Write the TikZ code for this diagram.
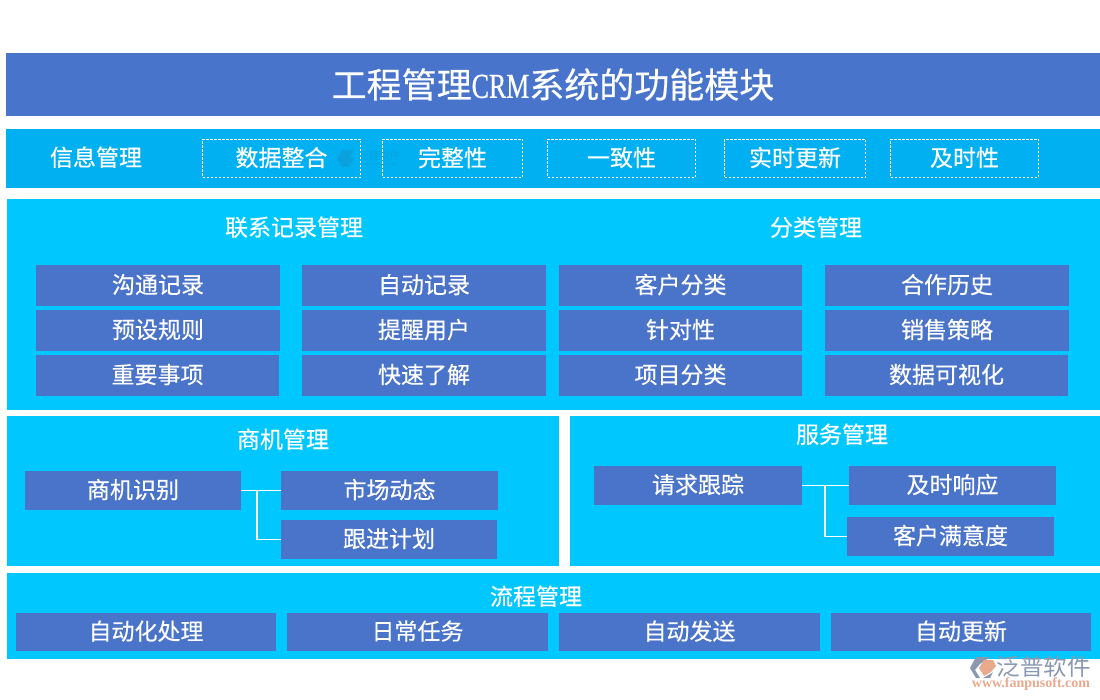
\documentclass[tikz,border=0pt]{standalone}
\usepackage{fontspec}
\setmainfont{Noto Sans CJK SC}[FakeBold=0.35]
\newfontfamily\plaincjk{Noto Sans CJK SC}
\newfontfamily\latinserif{Liberation Serif}[FakeStretch=0.74,FakeBold=0.6]
\newfontfamily\urlserif{Liberation Serif}
\definecolor{titleblue}{HTML}{4874CB}
\definecolor{barblue}{HTML}{00B0F0}
\definecolor{panelblue}{HTML}{00C8FF}
\definecolor{cellblue}{HTML}{4A73CA}
\definecolor{wmdark}{HTML}{8A98B0}
\definecolor{wmorange}{HTML}{E8A98C}
\definecolor{wmfaint}{HTML}{0AA2DE}
\tikzset{
  x=1pt,y=-1pt,
  panelbox/.style={fill=panelblue,draw=none},
  barbox/.style={fill=barblue,draw=none},
  titlebox/.style={fill=titleblue,draw=none},
  lab/.style={text=white,font=\fontsize{23}{25}\selectfont,inner sep=0pt,yshift=0.8pt},
  titlelab/.style={text=white,font=\fontsize{35}{37}\selectfont,inner sep=0pt},
  cell/.style={fill=cellblue,draw=none,text=white,font=\fontsize{23}{25}\selectfont,inner sep=0pt,anchor=center},
  dashcell/.style={fill=none,draw=white,line width=0.8pt,dash pattern=on 2.5pt off 1.5pt,text=white,font=\fontsize{23}{25}\selectfont,inner sep=0pt,anchor=center},
  link/.style={draw=white,line width=1.2pt},
}
% \bx{style}{name}{x0}{y0}{x1}{y1}{text}
\newcommand{\bx}[7]{%
  \pgfmathsetmacro{\bxw}{#5-#3}\pgfmathsetmacro{\bxh}{#6-#4}%
  \pgfmathsetmacro{\bxcx}{(#3+#5)/2}\pgfmathsetmacro{\bxcy}{(#4+#6)/2}%
  \node[#1,minimum width=\bxw pt,minimum height=\bxh pt] (#2) at (\bxcx,\bxcy) {\raisebox{0pt}[\height][\dimexpr\depth+1.8pt\relax]{#7}};%
}
\begin{document}
\begin{tikzpicture}
\useasboundingbox (0,0) rectangle (1100,700);
% title
\node[titlebox,titlelab,minimum width=1094pt,minimum height=63pt] (title) at (553,84.5) {工程管理{\latinserif\fontsize{35}{37}\selectfont CRM}系统的功能模块};
% information bar
\bx{barbox}{infobar}{6}{129}{1100}{188}{}
\node[lab] (infolab) at (96,158) {信息管理};
% faint watermark
\fill[wmfaint] (337,158) -- (342,150) -- (354,150) -- (349,157) -- (354,159) -- (349,167) -- (342,167) -- cycle;
\node[text=wmfaint,font=\plaincjk\fontsize{10.5}{11}\selectfont,inner sep=0pt] (wmsmall) at (379,156) {泛普软件};
\node[text=wmfaint,font=\urlserif\fontsize{4}{5}\selectfont,inner sep=0pt] (wmsmallurl) at (379,165) {www.fanpusoft.com};
\bx{dashcell}{d1}{202.5}{139.5}{360.5}{177.5}{数据整合}
\bx{dashcell}{d2}{382.5}{139.5}{522.5}{177.5}{完整性}
\bx{dashcell}{d3}{547.5}{139.5}{695.5}{177.5}{一致性}
\bx{dashcell}{d4}{724.5}{139.5}{865.5}{177.5}{实时更新}
\bx{dashcell}{d5}{890.5}{139.5}{1038.5}{177.5}{及时性}
% main panel
\bx{panelbox}{mainpanel}{7}{199}{1100}{410}{}
\node[lab] (h1) at (294,228) {联系记录管理};
\node[lab] (h2) at (816,228) {分类管理};
\bx{cell}{a1}{36}{265}{280}{306}{沟通记录}
\bx{cell}{a2}{302}{265}{546}{306}{自动记录}
\bx{cell}{a3}{559}{265}{802}{306}{客户分类}
\bx{cell}{a4}{825}{265}{1069}{306}{合作历史}
\bx{cell}{b1}{36}{310}{280}{351}{预设规则}
\bx{cell}{b2}{302}{310}{546}{351}{提醒用户}
\bx{cell}{b3}{559}{310}{802}{351}{针对性}
\bx{cell}{b4}{825}{310}{1069}{351}{销售策略}
\bx{cell}{c1}{36}{355}{279}{396}{重要事项}
\bx{cell}{c2}{302}{355}{546}{396}{快速了解}
\bx{cell}{c3}{559}{355}{802}{396}{项目分类}
\bx{cell}{c4}{825}{355}{1068}{396}{数据可视化}
% opportunity panel
\bx{panelbox}{opppanel}{7}{416}{559}{566}{}
\node[lab] (h3) at (283,440) {商机管理};
\bx{cell}{o1}{25}{471}{241}{510}{商机识别}
\bx{cell}{o2}{281}{471}{498}{510}{市场动态}
\bx{cell}{o3}{281}{520}{497}{559}{跟进计划}
\draw[link] (o1.east) -- (o2.west);
\coordinate (ojoin) at (257,490.5);
\draw[link] (ojoin) |- (o3.west);
% service panel
\bx{panelbox}{svcpanel}{570}{416}{1100}{566}{}
\node[lab] (h4) at (842,435) {服务管理};
\bx{cell}{s1}{594}{466}{802}{505}{请求跟踪}
\bx{cell}{s2}{849}{466}{1056}{505}{及时响应}
\bx{cell}{s3}{847}{517}{1054}{556}{客户满意度}
\draw[link] (s1.east) -- (s2.west);
\coordinate (sjoin) at (825,485.5);
\draw[link] (sjoin) |- (s3.west);
% process panel
\bx{panelbox}{procpanel}{7}{573}{1100}{659}{}
\node[lab] (h5) at (536,597) {流程管理};
\bx{cell}{p1}{16}{613}{276}{651}{自动化处理}
\bx{cell}{p2}{287}{613}{548}{651}{日常任务}
\bx{cell}{p3}{559}{613}{820}{651}{自动发送}
\bx{cell}{p4}{831}{613}{1091}{651}{自动更新}
% logo
\fill[wmdark] (970,668) -- (976,657) -- (990,657) -- (980,664) -- (975,670) -- (980,678) -- (976,678) -- cycle;
\fill[wmorange] (979,668) -- (984,660) -- (993,660) -- (996,666) -- (991,672) -- (984,676) -- cycle;
\fill[wmdark] (983,678) -- (992,673) -- (993,672) -- (990,678) -- cycle;
\node[text=wmdark,font=\plaincjk\fontsize{23.5}{25}\selectfont,inner sep=0pt] (wmtext) at (1043.5,667) {泛普软件};
\node[text=wmorange,font=\urlserif\bfseries\fontsize{14}{15}\selectfont,inner sep=0pt] (wmurl) at (1031,684.5) {www.fanpusoft.com};
\end{tikzpicture}
\end{document}
